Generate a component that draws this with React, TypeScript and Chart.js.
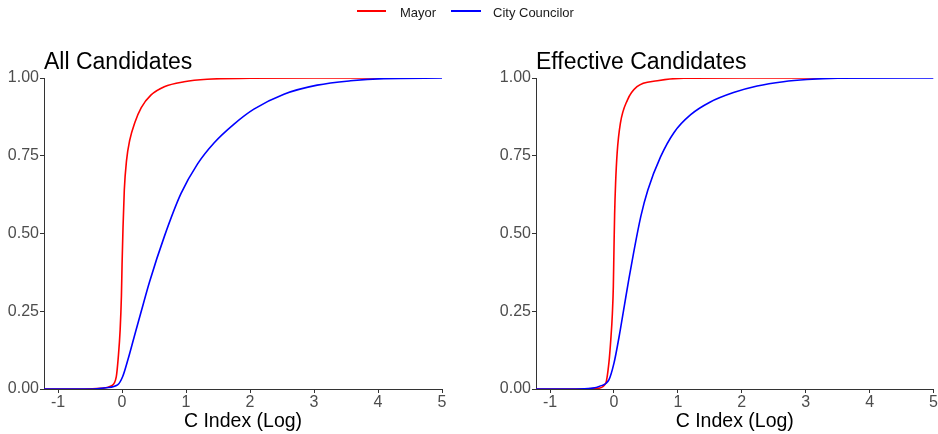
import { useEffect, useRef } from "react";
import { Chart, registerables } from "chart.js";

Chart.register(...registerables);

// Axis ticks and ranges
const xTicks = [-1, 0, 1, 2, 3, 4, 5];
const yTicks = [0, 0.25, 0.5, 0.75, 1];
const X_MIN = -1.22;
const X_MAX = 5;

// Cumulative distribution of the C index (log), all candidates
const allMayorX = [-1.22, -0.6, -0.33, -0.17, -0.09, -0.06, -0.03, -0.01, 0.0, 0.015, 0.035, 0.07, 0.12, 0.2, 0.3, 0.45, 0.66, 0.97, 1.33, 2.0, 3.0, 4.11];
const allMayorY = [0, 0, 0.002, 0.01, 0.04, 0.1, 0.19, 0.3, 0.4, 0.52, 0.64, 0.735, 0.8, 0.857, 0.905, 0.945, 0.972, 0.988, 0.996, 0.999, 1.0, 1.0];
const allCouncilX = [-1.22, -0.5, -0.25, -0.07, 0.01, 0.09, 0.19, 0.3, 0.43, 0.66, 0.92, 1.18, 1.44, 1.75, 2.06, 2.53, 3.05, 3.57, 4.09, 5.0];
const allCouncilY = [0, 0, 0.004, 0.013, 0.04, 0.093, 0.168, 0.25, 0.345, 0.49, 0.628, 0.724, 0.792, 0.852, 0.9, 0.948, 0.977, 0.991, 0.998, 1.0];

// Cumulative distribution of the C index (log), effective candidates
const effMayorX = [-1.22, -0.5, -0.26, -0.13, -0.08, -0.05, -0.025, -0.01, 0.0, 0.01, 0.025, 0.05, 0.1, 0.21, 0.36, 0.68, 1.09, 2.0, 3.22];
const effMayorY = [0, 0, 0.002, 0.018, 0.083, 0.158, 0.243, 0.33, 0.45, 0.56, 0.66, 0.76, 0.854, 0.929, 0.972, 0.991, 0.999, 1.0, 1.0];
const effCouncilX = [-1.22, -0.6, -0.36, -0.21, -0.08, 0.0, 0.08, 0.16, 0.23, 0.3, 0.42, 0.53, 0.73, 0.94, 1.2, 1.5, 1.87, 2.24, 2.65, 3.02, 3.5, 5.0];
const effCouncilY = [0, 0, 0.002, 0.01, 0.029, 0.083, 0.168, 0.265, 0.35, 0.43, 0.555, 0.64, 0.747, 0.825, 0.882, 0.922, 0.953, 0.974, 0.988, 0.995, 0.999, 1.0];

const FONT = "'Liberation Sans', Arial, Helvetica, sans-serif";
const MAYOR_COLOR = "#FF0000";
const COUNCIL_COLOR = "#0000FF";
const AXIS_COLOR = "#333333";
const TICK_TEXT = "#4D4D4D";

function toPoints(xs: number[], ys: number[]) {
  return xs.map((x, i) => ({ x, y: ys[i] }));
}

// Panel title drawn flush with the left edge of the plotting area
const panelTitle = {
  id: "panelTitle",
  afterDraw(chart: any, _args: any, opts: any) {
    const { ctx, chartArea } = chart;
    ctx.save();
    ctx.font = `23px ${FONT}`;
    ctx.fillStyle = "#000000";
    ctx.textAlign = "left";
    ctx.textBaseline = "alphabetic";
    ctx.fillText(opts.text, chartArea.left, chartArea.top - 9);
    ctx.restore();
  },
};

type PanelProps = {
  title: string;
  mayorX: number[];
  mayorY: number[];
  councilX: number[];
  councilY: number[];
  padLeft: number;
  padRight: number;
  left: number;
};

function Panel({ title, mayorX, mayorY, councilX, councilY, padLeft, padRight, left }: PanelProps) {
  const ref = useRef<HTMLCanvasElement>(null);

  useEffect(() => {
    if (!ref.current) return;
    const lineStyle = {
      showLine: true,
      pointRadius: 0,
      pointHoverRadius: 0,
      borderWidth: 1.6,
      fill: false,
      cubicInterpolationMode: "monotone" as const,
    };
    const chart = new Chart(ref.current, {
      type: "scatter",
      data: {
        datasets: [
          {
            label: "City Councilor",
            data: toPoints(councilX, councilY),
            borderColor: COUNCIL_COLOR,
            backgroundColor: COUNCIL_COLOR,
            ...lineStyle,
          },
          {
            label: "Mayor",
            data: toPoints(mayorX, mayorY),
            borderColor: MAYOR_COLOR,
            backgroundColor: MAYOR_COLOR,
            ...lineStyle,
          },
        ],
      },
      options: {
        responsive: false,
        animation: false,
        events: [],
        layout: { padding: { left: padLeft, right: padRight, top: 78, bottom: 0 } },
        plugins: {
          legend: { display: false },
          tooltip: { enabled: false },
          // @ts-ignore custom plugin options
          panelTitle: { text: title },
        },
        scales: {
          x: {
            type: "linear",
            min: X_MIN,
            max: X_MAX,
            afterBuildTicks: (s: any) => {
              s.ticks = xTicks.map((v) => ({ value: v }));
            },
            afterFit: (s: any) => {
              s.height = 45;
            },
            grid: { display: true, drawOnChartArea: false, drawTicks: true, tickLength: 4, color: AXIS_COLOR },
            border: { display: true, color: AXIS_COLOR, width: 1 },
            ticks: {
              padding: 0,
              color: TICK_TEXT,
              maxRotation: 0,
              autoSkip: false,
              font: { family: FONT, size: 16 },
            },
            title: {
              display: true,
              text: "C Index (Log)",
              color: "#000000",
              font: { family: FONT, size: 19.5 },
              padding: { top: 0, bottom: 1 },
            },
          },
          y: {
            type: "linear",
            min: 0,
            max: 1,
            afterBuildTicks: (s: any) => {
              s.ticks = yTicks.map((v) => ({ value: v }));
            },
            afterFit: (s: any) => {
              s.width = 44;
            },
            grid: { display: true, drawOnChartArea: false, drawTicks: true, tickLength: 4, color: AXIS_COLOR },
            border: { display: true, color: AXIS_COLOR, width: 1 },
            ticks: {
              padding: 1,
              color: TICK_TEXT,
              font: { family: FONT, size: 16 },
              callback: (v: any) => Number(v).toFixed(2),
            },
          },
        },
      },
      plugins: [panelTitle],
    });
    return () => chart.destroy();
  }, []);

  return (
    <canvas
      ref={ref}
      width={469}
      height={434}
      style={{ position: "absolute", left, top: 0, width: 469, height: 434 }}
    />
  );
}

const legendText: React.CSSProperties = {
  position: "absolute",
  top: 6,
  fontFamily: FONT,
  fontSize: 13,
  lineHeight: 1,
  color: "#1A1A1A",
  whiteSpace: "nowrap",
};

export default function App() {
  return (
    <div
      style={{
        position: "fixed",
        left: 0,
        top: 0,
        width: 938,
        height: 434,
        background: "#FFFFFF",
        overflow: "hidden",
      }}
    >
      <Panel
        title="All Candidates"
        mayorX={allMayorX}
        mayorY={allMayorY}
        councilX={allCouncilX}
        councilY={allCouncilY}
        padLeft={0}
        padRight={27}
        left={0}
      />
      <Panel
        title="Effective Candidates"
        mayorX={effMayorX}
        mayorY={effMayorY}
        councilX={effCouncilX}
        councilY={effCouncilY}
        padLeft={23}
        padRight={4}
        left={469}
      />
      {/* Shared legend */}
      <div style={{ position: "absolute", left: 357, top: 10, width: 29, height: 2, background: MAYOR_COLOR }} />
      <span style={{ ...legendText, left: 400 }}>Mayor</span>
      <div style={{ position: "absolute", left: 451, top: 10, width: 30, height: 2, background: COUNCIL_COLOR }} />
      <span style={{ ...legendText, left: 493 }}>City Councilor</span>
    </div>
  );
}
